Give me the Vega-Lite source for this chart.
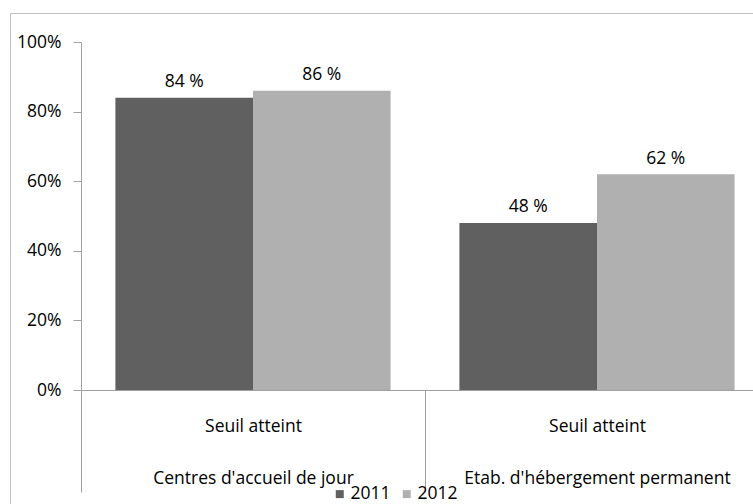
{
  "$schema": "https://vega.github.io/schema/vega-lite/v6.json",
  "width": 743,
  "height": 491,
  "autosize": {"type": "none"},
  "padding": {"left": 10, "top": 13, "right": 0, "bottom": 0},
  "background": "white",
  "config": {"view": {"stroke": "#bfbfbf", "strokeWidth": 1}, "font": "Open Sans"},
  "data": {"values": [
    {"category": "Centres d'accueil de jour", "year": "2011", "value": 0.84, "label": "84 %"},
    {"category": "Centres d'accueil de jour", "year": "2012", "value": 0.86, "label": "86 %"},
    {"category": "Etab. d'hébergement permanent", "year": "2011", "value": 0.48, "label": "48 %"},
    {"category": "Etab. d'hébergement permanent", "year": "2012", "value": 0.62, "label": "62 %"}
  ]},
  "encoding": {
    "x": {
      "field": "category", "type": "nominal", "sort": null,
      "scale": {"range": [71, 759], "paddingInner": 0, "paddingOuter": 0},
      "axis": {
        "orient": "bottom", "offset": -114, "title": null,
        "tickBand": "extent", "tickSize": 102, "tickColor": "#a0a0a0",
        "domainColor": "#a0a0a0",
        "labelExpr": "test(/^Centres/, datum.label + '') ? ['Seuil atteint\u00a0\u00a0\u00a0\u00a0\u00a0\u00a0\u00a0', datum.label] : (test(/^Etab/, datum.label + '') ? ['Seuil atteint', datum.label] : '')",
        "labelLineHeight": 52, "labelFontSize": 17.5, "labelPadding": -61,
        "labelLimit": 500,
        "labelColor": "#000000", "labelAngle": 0, "labelBaseline": "alphabetic"
      }
    },
    "xOffset": {"field": "year", "type": "nominal", "scale": {"paddingInner": 0, "paddingOuter": 0.25}},
    "y": {
      "field": "value", "type": "quantitative",
      "scale": {"domain": [0, 1], "range": [377, 29], "nice": false},
      "axis": {
        "orient": "left", "offset": -71, "values": [0, 0.2, 0.4, 0.6, 0.8, 1],
        "format": ".0%", "title": null, "grid": false,
        "domainColor": "#a0a0a0", "tickColor": "#a0a0a0", "tickSize": 8,
        "labelFontSize": 17.5, "labelPadding": 12, "labelColor": "#000000"
      }
    }
  },
  "layer": [
    {
      "mark": {"type": "bar"},
      "encoding": {
        "color": {
          "field": "year", "type": "nominal",
          "scale": {"domain": ["2011", "2012"], "range": ["#606060", "#b0b0b0"]},
          "legend": {
            "orient": "none", "legendX": 321, "legendY": 472, "direction": "horizontal",
            "title": null, "symbolType": "square", "symbolSize": 64, "symbolStrokeWidth": 0,
            "labelFontSize": 17.5, "labelColor": "#000000", "labelOffset": 2, "columnPadding": 7
          }
        }
      }
    },
    {
      "mark": {"type": "text", "baseline": "alphabetic", "dy": -10.5, "fontSize": 17.5, "color": "#000000"},
      "encoding": {"text": {"field": "label"}}
    }
  ]
}
